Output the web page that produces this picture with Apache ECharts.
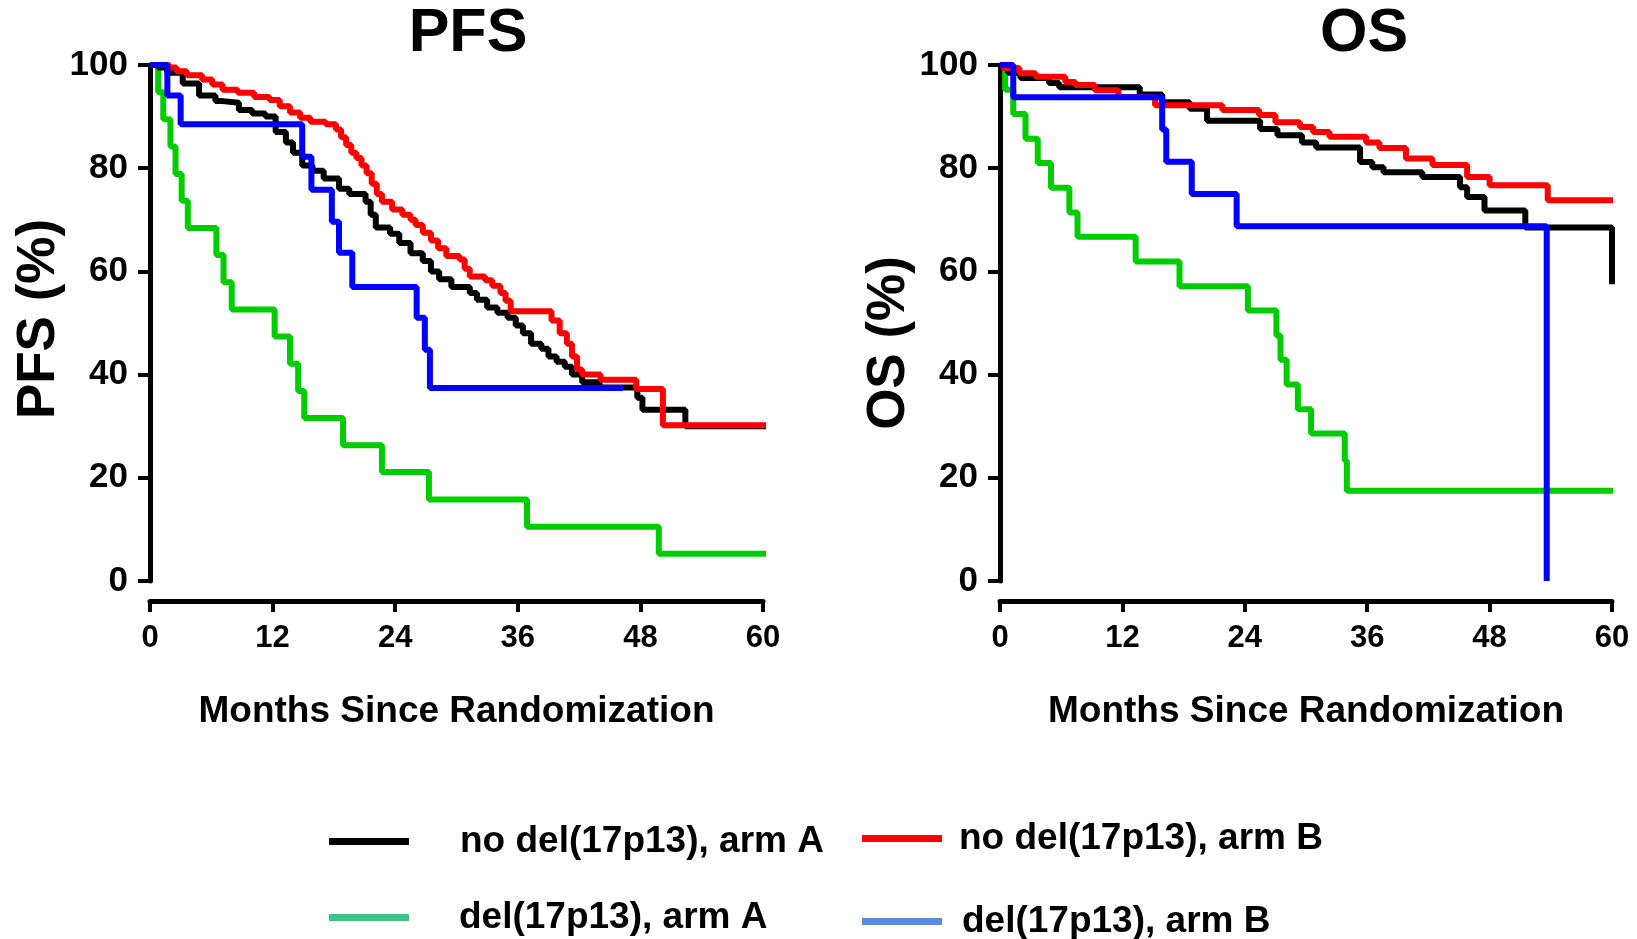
<!DOCTYPE html>
<html>
<head>
<meta charset="utf-8">
<script src="https://cdn.jsdelivr.net/npm/echarts@6/dist/echarts.min.js"></script>
<style>
html,body{margin:0;padding:0;background:#fff;}
#chart{width:1637px;height:939px;}
</style>
</head>
<body>
<div id="chart"></div>
<script>
// ---------- Data (months, survival %) ----------
const seriesNames = ['no del(17p13), arm A', 'no del(17p13), arm B', 'del(17p13), arm A', 'del(17p13), arm B'];
const xTicks = [0, 12, 24, 36, 48, 60];
const yTicks = [0, 20, 40, 60, 80, 100];

// PFS
const pfsNoDelA_t = [0, 0.8, 1.7, 3.2, 4.8, 6.4, 7.1, 8.7, 10.0, 11.3, 12.3, 13.3, 14.0, 14.9, 15.9, 17.0, 18.5, 19.5, 21.1, 21.6, 22.1, 23.5, 24.4, 25.5, 26.7, 27.5, 28.3, 29.5, 31.3, 32.0, 33.0, 34.0, 35.0, 35.8, 36.5, 37.3, 38.3, 39.0, 39.8, 40.6, 41.3, 42.3, 44.0, 47.7, 48.2, 52.4, 60.6];
const pfsNoDelA_s = [100, 99.5, 98.5, 96.4, 94.1, 93, 92.7, 91.3, 90.6, 90, 87, 85, 83, 80.5, 79.5, 78, 76, 75, 73.5, 71, 68.5, 67.3, 65.5, 63.5, 62, 60, 58.5, 57, 55.8, 54.5, 53, 52, 51, 49.5, 48, 46, 45, 43.5, 42.5, 41.5, 40, 38.5, 37.5, 35.5, 33.2, 30, 30];

const pfsNoDelB_t = [0, 1.9, 2.6, 3.6, 5.1, 6.1, 7.1, 8.6, 10.2, 11.7, 12.7, 13.7, 14.7, 15.7, 17.2, 18.2, 18.7, 19.2, 19.7, 20.2, 20.7, 21.2, 21.7, 22.2, 22.7, 23.7, 24.7, 25.5, 26.0, 26.7, 27.5, 28.2, 29.0, 30.3, 30.8, 31.3, 32.8, 33.5, 34.3, 34.8, 35.3, 39.3, 40.1, 40.8, 41.3, 41.8, 42.3, 44.1, 47.6, 50.2, 60.6];
const pfsNoDelB_s = [100, 99.5, 98.8, 98, 97.2, 96.2, 95.2, 94.6, 93.8, 93.2, 92, 90.8, 89.8, 89, 88.5, 87.5, 86, 84.5, 83, 82, 80.5, 79, 77, 75, 73.5, 72, 71, 70, 69, 67.5, 66, 64.5, 63, 62.3, 60.5, 59, 58.3, 57.2, 55.8, 54.3, 52.3, 50.5, 48, 46, 43.5, 41, 40, 39, 37.2, 30.2, 30.2];

const pfsDelA_t = [0, 0.8, 1.3, 2.0, 2.5, 3.1, 3.7, 6.5, 7.2, 8.0, 12.2, 13.7, 14.5, 15.1, 18.9, 22.7, 27.3, 36.9, 49.8, 60.5];
const pfsDelA_s = [100, 94.7, 89.5, 84.2, 78.9, 73.7, 68.4, 63.2, 57.9, 52.6, 47.4, 42.1, 36.8, 31.6, 26.3, 21.1, 15.8, 10.5, 5.3, 5.3];

const pfsDelB_t = [0, 1.7, 3.0, 14.9, 15.8, 17.8, 18.5, 19.8, 26.1, 26.9, 27.4, 46.3];
const pfsDelB_s = [100, 94.1, 88.5, 82.2, 75.8, 69.6, 63.6, 57.0, 51.0, 44.8, 37.4, 37.4];

// OS
const osNoDelA_t = [0, 0.8, 2.0, 4.8, 5.8, 13.7, 15.9, 18.6, 20.3, 25.5, 27.2, 29.6, 31.0, 35.3, 36.5, 37.6, 41.4, 45.1, 45.8, 47.5, 51.5, 60.0];
const osNoDelA_s = [100, 98.5, 97.5, 96.5, 95.7, 94.3, 92.8, 91.5, 89.2, 87.6, 86.4, 85.0, 84.0, 81.2, 80.2, 79.2, 78.3, 76.3, 74.4, 71.8, 68.5, 57.5];

const osNoDelB_t = [0, 0.3, 1.9, 3.5, 6.4, 7.4, 9.3, 11.6, 15.2, 21.8, 25.4, 27.0, 29.4, 30.7, 32.3, 35.9, 37.2, 39.8, 42.4, 45.8, 48.0, 53.7, 60.1];
const osNoDelB_s = [100, 99.4, 98.4, 97.7, 96.7, 96.1, 95.1, 93.8, 92.2, 91.3, 90.3, 88.9, 88.0, 87.0, 86.1, 85.0, 83.9, 81.9, 80.6, 78.3, 76.7, 73.8, 73.8];

const osDelA_t = [0, 0.5, 1.3, 2.5, 3.7, 5.0, 6.8, 7.6, 13.3, 17.6, 24.3, 27.1, 27.5, 28.1, 29.2, 30.5, 33.8, 34.0, 60.1];
const osDelA_s = [100, 95.2, 90.5, 85.7, 81.0, 76.2, 71.4, 66.7, 61.9, 57.1, 52.4, 47.6, 42.9, 38.1, 33.3, 28.6, 23.3, 17.5, 17.5];

const osDelB_t = [0, 1.3, 15.9, 16.3, 18.8, 23.2, 53.6];
const osDelB_s = [100, 93.75, 87.5, 81.25, 75, 68.75, 0];

// ---------- Styles ----------
const lineColors = ['#000000', '#ff0000', '#00cc00', '#0000ff'];
const legendColors = ['#000000', '#ff0000', '#41bf87', '#5a8bd5'];
const FONT = "Arial, 'Liberation Sans', Helvetica, sans-serif";

function zip(t, s) { return t.map((v, i) => [v, s[i]]); }

const chart = echarts.init(document.getElementById('chart'), null, { renderer: 'canvas' });

function makeX(gridIndex) {
  return {
    gridIndex, type: 'value', min: 0, max: 60, interval: 12,
    offset: 20,
    axisLine: { show: true, onZero: false, lineStyle: { color: '#000', width: 5 } },
    axisTick: { show: true, length: 11, lineStyle: { color: '#000', width: 4 } },
    axisLabel: { color: '#000', fontSize: 31, fontWeight: 'bold', fontFamily: FONT, margin: 22,
      formatter: v => (xTicks.indexOf(v) >= 0 ? String(v) : '') },
    splitLine: { show: false },
    name: 'Months Since Randomization', nameLocation: 'middle', nameGap: 92,
    nameTextStyle: { color: '#000', fontSize: 37, fontWeight: 'bold', fontFamily: FONT }
  };
}
function makeY(gridIndex, name, gap, pad) {
  return {
    gridIndex, type: 'value', min: 0, max: 100, interval: 20,
    axisLine: { show: true, lineStyle: { color: '#000', width: 5 } },
    axisTick: { show: true, length: 12, lineStyle: { color: '#000', width: 4 } },
    axisLabel: { color: '#000', fontSize: 35, fontWeight: 'bold', fontFamily: FONT, margin: 22,
      formatter: v => (yTicks.indexOf(v) >= 0 ? String(v) : '') },
    splitLine: { show: false },
    name, nameLocation: 'middle', nameGap: gap, nameRotate: 90,
    nameTextStyle: { color: '#000', fontSize: 53, fontWeight: 'bold', fontFamily: FONT, padding: pad }
  };
}

const panels = [
  { data: [zip(pfsNoDelA_t, pfsNoDelA_s), zip(pfsNoDelB_t, pfsNoDelB_s), zip(pfsDelA_t, pfsDelA_s), zip(pfsDelB_t, pfsDelB_s)] },
  { data: [zip(osNoDelA_t, osNoDelA_s), zip(osNoDelB_t, osNoDelB_s), zip(osDelA_t, osDelA_s), zip(osDelB_t, osDelB_s)] }
];

const drawOrder = [2, 0, 1, 3]; // green, black, red, blue on top
const series = [];
panels.forEach((p, gi) => {
  drawOrder.forEach((k, zi) => {
    series.push({
      name: seriesNames[k], type: 'line', step: 'end',
      xAxisIndex: gi, yAxisIndex: gi,
      data: p.data[k], showSymbol: false, symbol: 'none', clip: false,
      lineStyle: { color: lineColors[k], width: 6 },
      itemStyle: { color: lineColors[k] },
      z: 2 + zi, animation: false
    });
  });
});

function legendItem(i, left, top, gap) {
  return {
    show: true, left, top, orient: 'horizontal', icon: 'rect',
    itemWidth: 80, itemHeight: 7, padding: 0,
    data: [{ name: seriesNames[i], icon: 'rect', itemStyle: { color: legendColors[i] } }],
    textStyle: { color: '#000', fontSize: 37, fontWeight: 'bold', fontFamily: FONT, padding: [0, 0, 0, gap] },
    selectedMode: true
  };
}

const option = {
  backgroundColor: '#ffffff',
  animation: false,
  title: [
    { text: 'PFS', left: 468, top: 4, textAlign: 'center', padding: 0,
      textStyle: { fontSize: 61, fontWeight: 'bold', color: '#000', fontFamily: FONT } },
    { text: 'OS', left: 1364, top: 4, textAlign: 'center', padding: 0,
      textStyle: { fontSize: 61, fontWeight: 'bold', color: '#000', fontFamily: FONT } }
  ],
  grid: [
    { left: 150, top: 65, width: 613, height: 516, containLabel: false },
    { left: 1000, top: 65, width: 612, height: 516, containLabel: false }
  ],
  xAxis: [makeX(0), makeX(1)],
  yAxis: [makeY(0, 'PFS (%)', 82, [0, 0, 0, 8]), makeY(1, 'OS (%)', 76, [0, 40, 0, 0])],
  legend: [
    legendItem(0, 329, 823, 46),
    legendItem(1, 862, 820, 12),
    legendItem(2, 329, 899, 45),
    legendItem(3, 862, 903, 15)
  ],
  series
};
chart.setOption(option);
</script>
</body>
</html>
